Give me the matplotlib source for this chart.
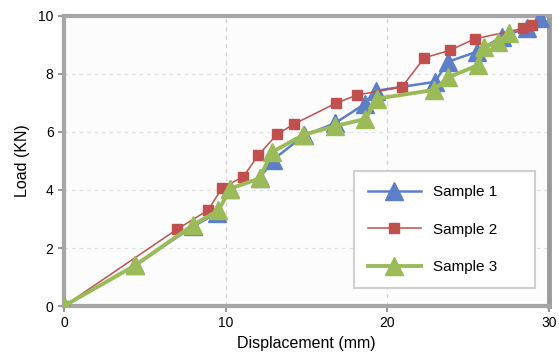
import matplotlib
matplotlib.use("Agg")
import matplotlib.pyplot as plt

plt.rcParams['font.family'] = ['Liberation Sans', 'DejaVu Sans']

s1_x = [0, 4.4, 8.0, 9.45, 10.3, 12.1, 12.95, 14.85, 16.75, 18.65, 19.3, 22.95, 23.75, 25.55, 27.1, 28.65, 29.45]
s1_y = [0, 1.4, 2.75, 3.2, 4.05, 4.4, 5.05, 5.88, 6.3, 6.98, 7.42, 7.73, 8.42, 8.77, 9.29, 9.58, 9.92]

s2_x = [0, 7.0, 8.9, 9.8, 11.1, 12.0, 13.2, 14.25, 16.85, 18.1, 20.9, 22.3, 23.9, 25.4, 28.4, 28.95]
s2_y = [0, 2.65, 3.3, 4.08, 4.46, 5.19, 5.93, 6.28, 7.0, 7.27, 7.55, 8.56, 8.82, 9.21, 9.57, 9.68]

s3_x = [0, 4.4, 8.0, 9.55, 10.3, 12.1, 12.85, 14.8, 16.75, 18.65, 19.35, 22.9, 23.75, 25.6, 26.0, 26.85, 27.5]
s3_y = [0, 1.4, 2.8, 3.3, 4.05, 4.4, 5.3, 5.9, 6.2, 6.45, 7.15, 7.45, 7.88, 8.3, 8.94, 9.1, 9.4]

x_ticks = [0, 10, 20, 30]
y_ticks = [0, 2, 4, 6, 8, 10]

fig = plt.figure(figsize=(5.59, 3.63), dpi=100)
ax = fig.add_axes([0.1145, 0.157, 0.8675, 0.799])
ax.set_facecolor('#fcfcfc')

ax.plot(s1_x, s1_y, color='#5b7fc8', lw=1.8, marker='^', ms=12.5, mfc='#5b7fc8', mec='#5b7fc8', label='Sample 1', zorder=3)
ax.plot(s2_x, s2_y, color='#c0504d', lw=1.1, marker='s', ms=6.5, mfc='#c0504d', mec='#c0504d', label='Sample 2', zorder=4)
ax.plot(s3_x, s3_y, color='#9bbb59', lw=2.8, marker='^', ms=12.5, mfc='#9bbb59', mec='#9bbb59', label='Sample 3', zorder=5)

ax.set_xlim(0, 30)
ax.set_ylim(0, 10)
ax.set_xticks(x_ticks)
ax.set_yticks(y_ticks)
ax.tick_params(axis='both', labelsize=10, colors='#999999', labelcolor='black', length=4, width=1.5, direction='out')

for y in [2, 4, 6, 8]:
    ax.axhline(y, color='#e0e0e0', lw=0.9, ls=(0, (3, 3)), zorder=1)
for x in [10, 20]:
    ax.axvline(x, color='#d4d4d4', lw=1.0, ls=(0, (3, 3)), zorder=1)

for side in ['left', 'bottom', 'top']:
    ax.spines[side].set_color('#a6a6a6')
    ax.spines[side].set_linewidth(3)
ax.spines['right'].set_color('#9a9a9a')
ax.spines['right'].set_linewidth(3.5)
for sp in ax.spines.values():
    sp.set_zorder(2)

ax.set_xlabel('Displacement (mm)', fontsize=11.5, labelpad=4)
ax.set_ylabel('Load (KN)', fontsize=11.5, labelpad=6)

leg = ax.legend(loc='lower left', bbox_to_anchor=(0.598, 0.062, 0.373, 0.383), mode='expand',
                fontsize=11, frameon=True, fancybox=False, edgecolor='#d0d0d0', facecolor='white',
                framealpha=1, borderpad=0.9, labelspacing=1.55, handlelength=3.5, handletextpad=0.8,
                borderaxespad=0)
leg.get_frame().set_linewidth(1.5)
leg.set_zorder(2.5)

fig.savefig('out.png', dpi=100, facecolor='white')
